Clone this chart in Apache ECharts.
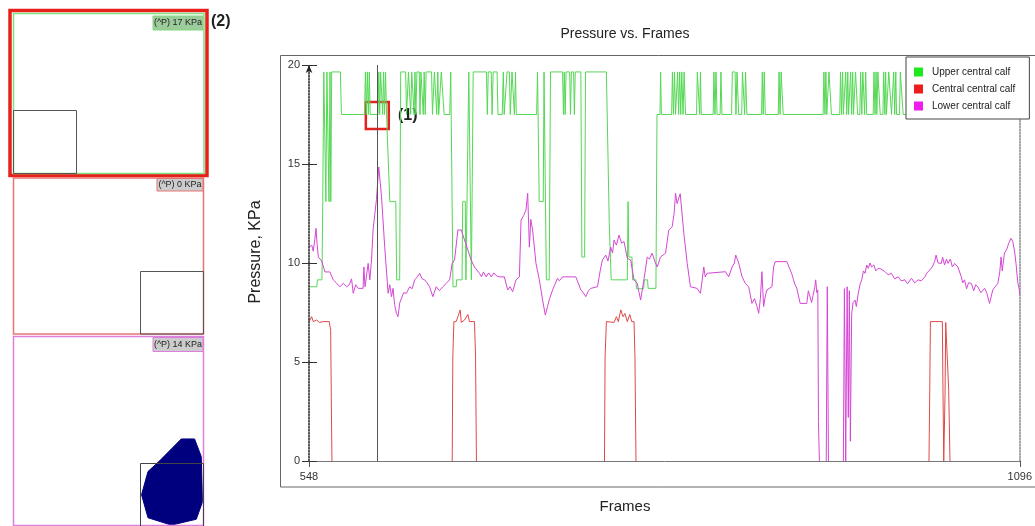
<!DOCTYPE html>
<html>
<head>
<meta charset="utf-8">
<script src="https://cdn.jsdelivr.net/npm/echarts@6/dist/echarts.min.js"></script>
<style>html,body{margin:0;padding:0;background:#fff;}#c{width:1035px;height:526px;}</style>
</head>
<body>
<div id="c"></div>
<script>
// ---------- data ----------
const seriesNames = ['Upper central calf', 'Central central calf', 'Lower central calf'];
const xTicks = [548, 1096];
const yTicks = [0, 5, 10, 15, 20];
const cursorFrame = 600.3;
const boxFrom = [591.8, 18.13];
const boxTo = [609.5, 16.77];
const panelLabels = ['(^P) 17 KPa', '(^P) 0 KPa', '(^P) 14 KPa'];

const upper = [
[548,8.8],[554,8.8],[554.5,9.15],[558,9.15],[558.6,13.1],[559.4,19.65],[560.4,19.65],[561,13.1],[561.8,19.65],[562.8,19.65],[563.4,13.1],[564.2,19.65],[564.8,13.1],[565.5,19.65],[572.2,19.65],[573,17.5],
[590.8,17.5],[591.5,19.65],[592.2,17.5],[593,19.65],[593.8,17.5],[594.5,19.65],[595.2,17.5],[601.2,17.5],[601.8,19.65],[602.5,17.5],[603.2,19.65],[604.2,19.65],[604.8,17.5],[605.5,19.65],[606.2,17.5],[607,19.65],[607.8,17.5],[608.7,17.5],[610.3,13.1],[614.9,13.1],[615.6,9.15],[617.9,9.15],[618.7,19.65],
[622.5,19.65],[623.2,17.5],[624,17.5],[624.7,19.65],[625.8,19.65],[626.4,17.5],[627.2,19.65],[628.3,19.65],[629,17.5],[629.7,19.65],[630.4,17.5],[631.2,19.65],[633,19.65],[633.6,17.5],[634.3,19.65],[635.5,19.65],[636.1,17.5],[636.8,19.65],[637.6,17.5],[638.3,19.65],[642.5,19.65],[643.2,17.5],[644,17.5],[644.7,19.65],[645.8,19.65],[646.5,17.5],[647.3,19.65],[648,17.5],[649.3,17.5],[650,19.65],[651.5,19.65],[652.2,17.5],[656.5,17.5],[657.3,19.65],[658,19.65],
[659,8.8],[661.5,8.8],[661.8,9.15],[666,9.15],[666.5,13.1],[668.5,13.1],[669,9.15],[670.5,9.15],[671.2,19.65],[672.5,19.65],[673.2,9.15],[674,9.15],[674.6,19.65],
[684.8,19.65],[685.5,17.5],[686.2,19.65],[688.5,19.65],[689.2,17.5],[690,19.65],[693,19.65],[693.7,17.5],[697,17.5],[697.8,19.65],[698.5,17.5],[700,17.5],[700.7,19.65],[702.5,19.65],[703.2,17.5],[703.9,17.5],[704.5,19.65],[705.7,19.65],[706.4,17.5],[707.2,19.65],[707.8,17.5],[723.5,17.5],
[724.2,19.65],[725,19.65],[725.5,13.1],[728.6,13.1],[729.2,19.65],[730.4,19.65],[731,9.15],[733.2,9.15],[734.2,19.65],[743.5,19.65],[744.2,17.5],[744.8,19.65],[745.5,17.5],[746.2,19.65],[749,19.65],[749.6,17.5],[750.3,19.65],[752,19.65],[752.6,17.5],[753.3,19.65],[757.6,19.65],[758.4,10.3],[760.5,10.3],[761.2,19.65],
[777.3,19.65],[779.5,12],[781,9.15],[793.4,9.15],[794,13.1],[794.6,10.3],[797,10.3],[797.5,9.15],[800,9.15],[800.5,8.7],[806,8.7],[806.5,9.15],[809,9.15],[809.5,8.72],[815.5,8.72],[816.3,17.5],
[818.6,17.5],[819.1,19.65],[819.7,17.5],[827.6,17.5],[828.2,19.65],[829,17.5],[829.8,19.65],[830.6,17.5],[831.6,17.5],[832.2,19.65],[833,17.5],[833.8,19.65],[834.6,17.5],[835.4,19.65],[836.4,17.5],[837.2,19.65],[838.3,17.5],[846.8,17.5],[847.4,19.65],[848.6,19.65],[849.2,17.5],[849.8,19.65],[850.4,17.5],[859.6,17.5],[860.2,19.65],[861,17.5],[861.8,19.65],[862.6,17.5],[865,17.5],[865.6,19.65],[866.4,17.5],[873.8,17.5],[874.4,19.65],[876.5,19.65],[877.2,17.5],[878,19.65],[879.3,17.5],[881.6,17.5],[882.2,19.65],[883.3,19.65],[883.9,17.5],[884.6,19.65],[885.6,17.5],[896.9,17.5],[897.5,19.65],[898.2,17.5],[899,19.65],[899.8,17.5],[909.8,17.5],[910.4,19.65],[911.2,17.5],[912,19.65],[913,19.65],[913.6,17.5],
[944.4,17.5],[945,19.65],[945.8,17.5],[946.5,19.65],[947.2,17.5],[948.3,17.5],[948.9,19.65],[950,19.65],[950.8,17.5],[957.2,17.5],[957.8,19.65],[958.6,17.5],[959.4,19.65],[960,17.5],[961.2,17.5],[961.8,19.65],[962.6,17.5],[963.4,19.65],[964,17.5],[965,17.5],[965.6,19.65],[966.4,17.5],[967.2,19.65],[967.8,17.5],[968.8,17.5],[969.4,19.65],[970.4,19.65],[971,17.5],[972.7,17.5],[973.3,19.65],[974.2,17.5],[975,19.65],[975.8,19.65],[976.4,17.5],[977.2,19.65],[978,17.5],[983,17.5],[983.6,19.65],[984.4,17.5],[985.2,19.65],[985.8,17.5],[986.6,19.65],[987.6,19.65],[988.4,17.5],[990.5,17.5],[991.1,19.65],[992,17.5],[992.6,19.65],[993.2,17.5],[994.4,17.5],[995,19.65],[996.4,19.65],[997.1,17.5],[998.2,17.5],[998.8,19.65],[999.6,17.5],[1000.4,19.65],[1001,17.5],[1003.3,17.5],[1003.9,19.65],[1005.4,19.65],[1006.1,17.5],[1096,17.5]
];

// '-' marks gaps where the trace lies on the zero baseline (hidden by the axis line)
const central = [
[548,7.04],[550,7.29],[551.3,7.04],[553.9,7.12],[556,7.0],[559,7.04],[563.6,7.04],[564.7,6.6],[565.2,3.2],[565.7,0],[610,'-'],
[658.4,0],[658.9,5.3],[659.7,7.04],[661.5,7.04],[662.8,7.29],[664.6,7.63],[665.4,7.0],[667.9,7.12],[670.5,7.4],[671.7,7.04],[675.6,7.04],[676.4,5.3],[677.1,0],[720,'-'],
[775.8,0],[776.3,5.3],[777.3,7.04],[783.2,7.0],[785,7.29],[786.5,7.04],[788.4,7.63],[790.1,7.29],[791.6,7.45],[793.4,7.04],[795.3,7.4],[796.8,7.04],[798.6,7.04],[799.3,5.3],[800.1,0],[900,'-'],
[1026,0],[1026.6,3.6],[1027.1,7.04],[1036.3,7.04],[1036.8,3.6],[1037.4,0],[1038.4,3.4],[1038.9,7.0],[1040.1,6.95],[1041.2,3.6],[1042.2,0]
];

const lower = [
[548,10.8],[550.1,10.9],[551.3,10.6],[552.5,11.2],[553.4,11.75],[554.2,11.0],[555.2,10.3],[557.8,10.1],[560.3,9.55],[564.1,9.55],[566.7,9.15],[569,9.0],[571.8,8.8],[574.4,8.97],[577,8.8],[579,8.9],[580.8,9.2],[582.1,8.47],[584,8.9],[585.9,8.72],[589.7,8.72],[590.3,9.8],[591.2,8.8],[592.3,8.8],[593.6,9.98],[594.9,9.15],[596.2,10.15],[597.4,11.67],[600,13.2],[601.8,14.85],[603.9,13.35],[606.4,10.8],[609,8.47],[610.3,8.9],[611.6,8.3],[612.8,8.72],[614,7.9],[615.4,7.46],[616.6,7.29],[618,8.0],[619.3,7.96],[621,8.5],[623.1,8.47],[625.6,8.8],[627.5,8.7],[629.5,9.15],[631.5,9.3],[633.3,9.48],[635.2,9.2],[637.2,9.15],[639,9.0],[641,8.8],[643.5,8.3],[646.1,8.8],[648.5,8.6],[651.2,8.8],[653.8,8.97],[656.4,9.15],[658.4,9.98],[660.2,10.15],[662.8,11.67],[665.4,11.67],[667.9,11.16],[670.5,10.66],[673,10.15],[675.6,9.8],[679.4,9.48],[681,9.3],[682.5,9.55],[684.6,9.3],[686.5,9.5],[688.5,9.3],[690.5,9.5],[692.5,9.35],[694.8,9.3],[698.6,9.3],[701.2,8.64],[703,8.8],[705,8.55],[707.6,9.15],[710.2,9.3],[711.5,12.17],[713.5,12.4],[715.3,12.68],[716.6,13.52],[717.9,10.8],[719,12.2],[720.4,11.67],[723,9.98],[725.6,9.15],[728.1,8.13],[730.2,7.37],[731.9,7.8],[733.5,8.2],[735.8,8.64],[737.5,8.9],[739.6,9.23],[741,9.1],[743.5,9.3],[753.7,9.3],[755.5,9.0],[757.6,8.64],[759.5,8.5],[761.4,8.3],[763.5,8.6],[765.3,8.72],[770.4,8.8],[772.5,9.6],[774.2,10.15],[776.8,10.4],[778.5,10.1],[780.6,10.8],[782,10.5],[783.2,11.16],[785,10.9],[787,11.41],[789,11.0],[790.9,11.08],[793.4,10.24],[796,10.15],[798.6,9.15],[801.1,8.97],[802.5,8.5],[803.7,8.13],[806.2,9.15],[808.8,10.3],[810.5,10.2],[812.6,10.5],[814.5,10.1],[816.5,9.8],[819,10.3],[822.9,10.5],[824.1,10.57],[825.4,11.67],[828,11.83],[829.5,12.5],[830.6,13.52],[831.8,13.0],[833.2,13.0],[834.2,13.5],[835.2,13.52],[837,11.5],[839.6,9.98],[842.1,8.8],[847.2,8.72],[849.8,8.47],[852.4,9.8],[853.5,9.3],[855,9.48],[856.3,9.56],[869.1,9.56],[871.6,9.3],[874.2,9.8],[876,10.0],[877,10.4],[878,10.3],[879.3,10.0],[880.6,9.98],[881.9,9.3],[884.4,8.97],[887,8.8],[889.5,7.96],[891.5,8.2],[893.4,7.8],[894.7,7.46],[896,8.2],[897.2,9.56],[898.5,7.8],[900,8.4],[901.1,8.64],[904.9,8.8],[906.2,9.8],[907.5,10.07],[916.5,10.07],[918,9.8],[919,9.65],[920.5,9.4],[921.6,9.15],[922.8,8.9],[924.1,8.72],[926.7,7.96],[931.8,7.96],[933,8.6],[934.4,8.64],[935.5,8.0],[937,8.05],[938,8.8],[938.7,9.15],[939.5,8.5],[940.3,8.64],[940.8,2],[941.5,0],[944,'-'],[946.8,0],[947.6,8.8],[948.5,0],[954,'-'],[960,0],[960.8,8.7],[961.8,0],[962.9,8.8],[963.8,2.2],[964.6,8.6],[965.4,1],[966.4,7.46],[967.5,8.0],[969,8.13],[970,7.8],[971.5,8.47],[972.8,8.9],[974.1,9.15],[975.5,9.6],[976.7,9.48],[978,9.9],[979.2,9.73],[980.5,10.0],[981.8,9.8],[983.5,9.9],[985,9.6],[986.9,9.73],[989,9.7],[992.1,9.56],[994.5,9.4],[997.1,9.48],[999.5,9.2],[1002.3,9.3],[1004.5,9.1],[1007.4,9.15],[1009.5,8.95],[1012.5,9.23],[1015,9.0],[1017.6,9.15],[1020,9.1],[1022.8,9.3],[1024.5,9.5],[1026.6,9.65],[1028.5,9.8],[1030.4,10.07],[1031.5,10.4],[1033,10.0],[1035.5,9.98],[1036.5,10.3],[1038,9.9],[1039.5,10.2],[1040.7,9.98],[1042.5,10.2],[1044,9.8],[1045.8,9.98],[1048.3,9.8],[1050.9,9.3],[1052,9.0],[1053.4,9.15],[1055,8.7],[1056.5,9.0],[1058.6,8.97],[1060.5,8.6],[1062,8.9],[1063.7,8.8],[1066,8.5],[1068.9,8.72],[1070.5,8.5],[1072.7,7.96],[1075.2,8.64],[1077,8.8],[1079.1,8.97],[1080.5,9.5],[1081.6,10.3],[1082.5,9.6],[1084.2,10.5],[1086,10.7],[1087.5,11.0],[1089.3,11.25],[1090.6,11.08],[1092,10.6],[1093.1,9.98],[1094.5,9.0],[1095.7,8.64],[1096,8.4]
];

// pressure blob in sensor-panel units (0-100, y downward)
const blob = [[88.3,54.2],[95.3,54.2],[98.8,63.5],[99.5,87.4],[96.2,96.7],[83.1,99.8],[70.8,95.9],[67.4,83.7],[70.8,71.4],[76.9,65.8]];

// ---------- chart ----------
const FONT = 'Liberation Sans, Arial, sans-serif';
const lineColors = ['#55d855', '#e04848', '#d546d5'];
const iconColors = ['#1ee81e', '#ee1c1c', '#ee1cee'];

const chart = echarts.init(document.getElementById('c'), null, {renderer: 'canvas'});

function rect(x, y, w, h, stroke, lw, fill) {
  return {type: 'rect', shape: {x: x, y: y, width: w, height: h}, style: {stroke: stroke, lineWidth: lw, fill: fill || 'transparent'}, z: 50, silent: true};
}
function txt(x, y, t, size, weight, align, rot) {
  return {type: 'text', x: x, y: y, rotation: rot || 0, z: 51, silent: true,
    style: {text: t, fontSize: size, fontWeight: weight || 'normal', fontFamily: FONT, fill: '#222', textAlign: align || 'left', textVerticalAlign: 'middle'}};
}

const option = {
  animation: false,
  backgroundColor: '#fff',
  title: {text: 'Pressure vs. Frames', left: 620, top: 22, textAlign: 'center',
    textStyle: {fontSize: 14, fontWeight: 'normal', color: '#222', fontFamily: FONT}},
  legend: {
    orient: 'vertical', left: 906, top: 57, padding: [10, 14, 8, 8], itemGap: 7,
    itemWidth: 9, itemHeight: 9, icon: 'rect', backgroundColor: '#fff', borderColor: '#444', borderWidth: 1,
    textStyle: {fontSize: 10, color: '#222', fontFamily: FONT, padding: [0, 0, 0, 4]},
    data: seriesNames.map((n, i) => ({name: n, itemStyle: {color: iconColors[i]}}))
  },
  grid: [
    {left: 309, top: 65, width: 713, height: 396, containLabel: false},
    {left: 13.5, top: 336.5, width: 190, height: 189, containLabel: false}
  ],
  xAxis: [
    {type: 'value', gridIndex: 0, min: xTicks[0], max: xTicks[1], interval: xTicks[1] - xTicks[0], z: 10,
      axisLine: {show: true, lineStyle: {color: '#777', width: 1}},
      axisTick: {show: true, length: 6, lineStyle: {color: '#555'}},
      axisLabel: {fontSize: 11, color: '#333', fontFamily: FONT, margin: 10, showMinLabel: true, showMaxLabel: true,
        formatter: v => String(v)},
      splitLine: {show: false}},
    {type: 'value', gridIndex: 1, min: 0, max: 100, show: false}
  ],
  yAxis: [
    {type: 'value', gridIndex: 0, min: yTicks[0], max: yTicks[yTicks.length - 1], interval: 5, position: 'left', z: 10,
      axisLine: {show: true, symbol: ['none', 'arrow'], symbolSize: [5, 8], lineStyle: {color: '#222', width: 1.5, type: 'dotted'}},
      axisTick: {show: true, length: 7, lineStyle: {color: '#333'}},
      axisLabel: {fontSize: 11, color: '#333', fontFamily: FONT, margin: 9, formatter: v => String(v)},
      splitLine: {show: false}},
    {type: 'value', gridIndex: 0, min: 0, max: 20, interval: 5, position: 'left', z: 10,
      axisLine: {show: false}, axisLabel: {show: false}, splitLine: {show: false},
      axisTick: {show: true, inside: true, length: 8, lineStyle: {color: '#333'}}},
    {type: 'value', gridIndex: 0, min: 0, max: 20, interval: 5, position: 'right', z: 1,
      axisLine: {show: true, lineStyle: {color: '#888', width: 1.5, type: 'dotted'}},
      axisTick: {show: false}, axisLabel: {show: false}, splitLine: {show: false}},
    {type: 'value', gridIndex: 1, min: 0, max: 100, inverse: true, show: false}
  ],
  series: [
    {name: seriesNames[0], type: 'line', xAxisIndex: 0, yAxisIndex: 0, data: upper, showSymbol: false, z: 3,
      itemStyle: {color: iconColors[0]}, lineStyle: {color: lineColors[0], width: 1},
      markLine: {silent: true, symbol: ['none', 'none'], label: {show: false},
        lineStyle: {color: '#555', width: 1, type: 'solid'}, data: [{xAxis: cursorFrame}]},
      markArea: {silent: true,
        itemStyle: {color: 'rgba(0,0,0,0)', borderColor: '#e8201c', borderWidth: 2.5},
        label: {show: true, position: 'right', distance: 8, formatter: '(1)', fontSize: 16, fontWeight: 'bold', color: '#222', fontFamily: FONT},
        data: [[{xAxis: boxFrom[0], yAxis: boxFrom[1]}, {xAxis: boxTo[0], yAxis: boxTo[1]}]]}},
    {name: seriesNames[1], type: 'line', xAxisIndex: 0, yAxisIndex: 0, data: central, showSymbol: false, z: 2, connectNulls: false,
      itemStyle: {color: iconColors[1]}, lineStyle: {color: lineColors[1], width: 1}},
    {name: seriesNames[2], type: 'line', xAxisIndex: 0, yAxisIndex: 0, data: lower, showSymbol: false, z: 4, connectNulls: false,
      itemStyle: {color: iconColors[2]}, lineStyle: {color: lineColors[2], width: 1}},
    {name: 'blob', type: 'custom', xAxisIndex: 1, yAxisIndex: 3, data: [0], silent: true, z: 1,
      renderItem: function (params, api) {
        return {type: 'polygon', shape: {points: blob.map(p => api.coord(p))}, style: {fill: '#00007f', stroke: '#00007f'}};
      }}
  ],
  graphic: [
    rect(280.5, 55.5, 760, 431.5, '#666', 1),
    // panel 1
    rect(10, 10.5, 197, 165, '#e8201c', 3.5),
    rect(13.5, 13.5, 190.5, 160, '#80e080', 1.5),
    rect(13.5, 110.5, 63, 63, '#555', 1),
    rect(153, 16, 50, 14, '#80d880', 1, '#9ccc9c'),
    txt(178, 23, panelLabels[0], 9, 'normal', 'center'),
    txt(211, 22, '(2)', 16, 'bold', 'left'),
    // panel 2
    rect(13.5, 178, 190, 156, '#e87474', 1.5),
    rect(140.5, 271.5, 63, 62.5, '#555', 1),
    rect(157, 178.5, 46, 12.5, '#e87474', 1, '#cccccc'),
    txt(180, 185, panelLabels[1], 9, 'normal', 'center'),
    // panel 3
    rect(13.5, 336.5, 190, 189, '#dd80dd', 1.5),
    rect(140.5, 463.5, 63, 63, '#444', 1),
    rect(153, 337.5, 50, 14, '#dd80dd', 1, '#cccccc'),
    txt(178, 344.5, panelLabels[2], 9, 'normal', 'center'),
    // axis names
    txt(256, 252, 'Pressure, KPa', 16, 'normal', 'center', Math.PI / 2),
    txt(625, 507, 'Frames', 15, 'normal', 'center')
  ]
};
chart.setOption(option);
</script>
</body>
</html>
